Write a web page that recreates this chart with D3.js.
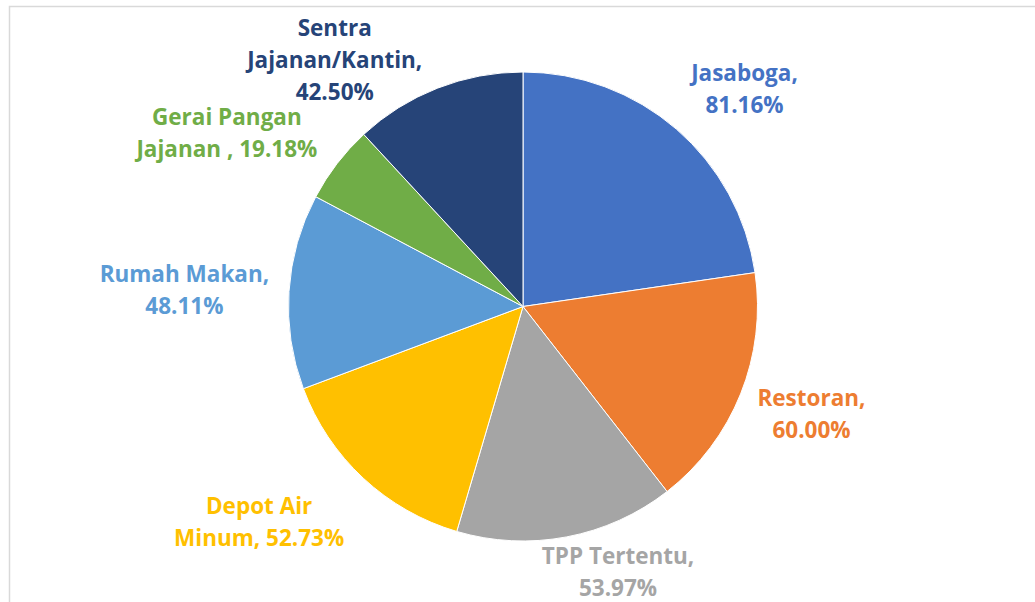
<!DOCTYPE html>
<html>
<head>
<meta charset="utf-8">
<script src="https://cdn.jsdelivr.net/npm/d3@7"></script>
<style>
  html, body { margin: 0; padding: 0; background: #fff; }
  svg { display: block; }
  .lbl { font-family: "Open Sans", Lato, sans-serif; font-weight: 700; font-size: 22.5px; }
</style>
</head>
<body>
<svg id="chart" width="1035" height="602"></svg>
<script>
// Categories and their percentages
const categories = ["Jasaboga", "Restoran", "TPP Tertentu", "Depot Air Minum", "Rumah Makan", "Gerai Pangan Jajanan", "Sentra Jajanan/Kantin"];
const values = [81.16, 60.00, 53.97, 52.73, 48.11, 19.18, 42.50];
const valueLabels = ["81.16%", "60.00%", "53.97%", "52.73%", "48.11%", "19.18%", "42.50%"];
// Label lines as they wrap on the chart
const labelLines = [
  ["Jasaboga,", "81.16%"],
  ["Restoran,", "60.00%"],
  ["TPP Tertentu,", "53.97%"],
  ["Depot Air", "Minum, 52.73%"],
  ["Rumah Makan,", "48.11%"],
  ["Gerai Pangan", "Jajanan , 19.18%"],
  ["Sentra", "Jajanan/Kantin,", "42.50%"]
];
const colors = ["#4472C4", "#ED7D31", "#A5A5A5", "#FFC000", "#5B9BD5", "#70AD47", "#264478"];

const width = 1035, height = 602;
const cx = 523, cy = 306.5, radius = 234.5;

const svg = d3.select("#chart");

// Plot-area frame (extends past right and bottom edges)
svg.append("rect")
  .attr("x", 9.5).attr("y", 6.5)
  .attr("width", 1200).attr("height", 800)
  .attr("fill", "none")
  .attr("stroke", "#d9d9d9")
  .attr("stroke-width", 1.5);

const pie = d3.pie().sort(null).value(d => d);
const arcs = pie(values);
const arc = d3.arc().innerRadius(0).outerRadius(radius);

const g = svg.append("g").attr("transform", `translate(${cx},${cy})`);

g.selectAll("path.slice")
  .data(arcs)
  .join("path")
  .attr("class", "slice")
  .attr("d", arc)
  .attr("fill", (d, i) => colors[i])
  .attr("stroke", "#fff")
  .attr("stroke-width", 1);

// Label placement: distance from centre and angle (degrees clockwise from top)
const labelPlace = [
  [310, 45.6],
  [308, 110.5],
  [282, 160.3],
  [341, 230.7],
  [339, 272.7],
  [343, 300.3],
  [310, 322.6]
];
const lineH = 32;

arcs.forEach((a, i) => {
  const [r, deg] = labelPlace[i];
  const t = deg * Math.PI / 180;
  const x = r * Math.sin(t), y = -r * Math.cos(t);
  const lines = labelLines[i];
  const text = g.append("text")
    .attr("class", "lbl")
    .attr("fill", colors[i])
    .attr("text-anchor", "middle");
  lines.forEach((ln, k) => {
    text.append("tspan")
      .attr("x", x)
      .attr("y", y + (k - (lines.length - 1) / 2) * lineH)
      .attr("dy", "0.35em")
      .text(ln);
  });
});
</script>
</body>
</html>
